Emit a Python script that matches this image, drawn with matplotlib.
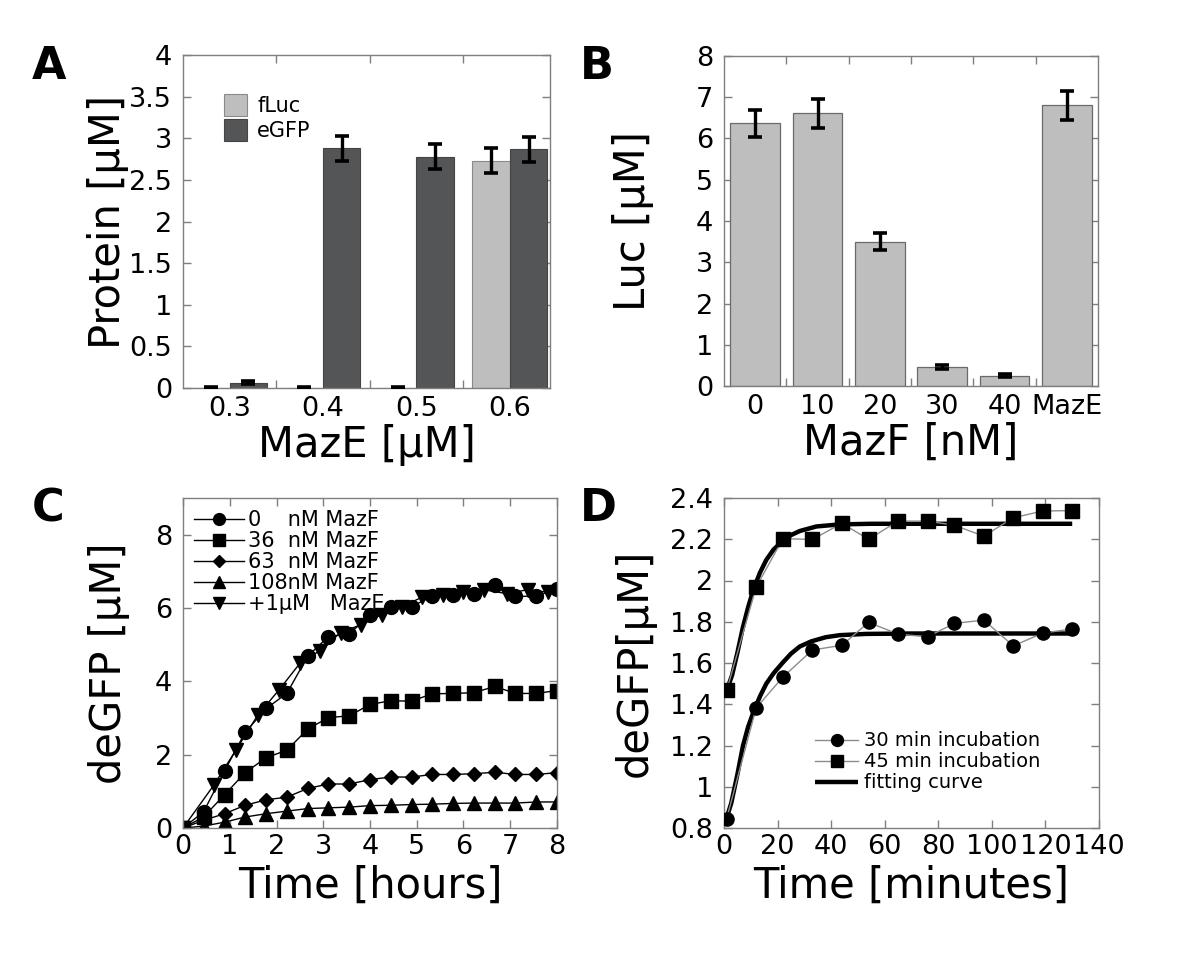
import matplotlib
matplotlib.use("Agg")
import matplotlib.pyplot as plt
import numpy as np

plt.rcParams['font.family'] = ['DejaVu Sans']

# ---------------- data ----------------
# Panel A
a_categories = ['0.3', '0.4', '0.5', '0.6']
a_fluc = [0.0, 0.0, 0.0, 2.73]
a_fluc_err = [0.012, 0.012, 0.012, 0.15]
a_egfp = [0.065, 2.88, 2.78, 2.87]
a_egfp_err = [0.02, 0.15, 0.15, 0.15]

# Panel B
b_categories = ['0', '10', '20', '30', '40', 'MazE']
b_luc = [6.37, 6.61, 3.50, 0.46, 0.25, 6.80]
b_luc_err = [0.33, 0.35, 0.20, 0.04, 0.03, 0.35]

# Panel C
c_time = [0, 0.44, 0.89, 1.33, 1.78, 2.22, 2.67, 3.11, 3.56, 4.0, 4.44,
          4.89, 5.33, 5.78, 6.22, 6.67, 7.11, 7.56, 8.0]
c_0nM = [0, 0.44, 1.56, 2.61, 3.26, 3.67, 4.69, 5.22, 5.30, 5.80, 6.03,
         6.04, 6.32, 6.36, 6.39, 6.64, 6.32, 6.32, 6.53]
c_36nM = [0, 0.30, 0.91, 1.51, 1.92, 2.12, 2.70, 3.01, 3.06, 3.37, 3.47,
          3.46, 3.66, 3.67, 3.69, 3.86, 3.67, 3.67, 3.75]
c_63nM = [0, 0.21, 0.39, 0.62, 0.77, 0.84, 1.08, 1.20, 1.20, 1.32, 1.39,
          1.39, 1.46, 1.46, 1.48, 1.52, 1.46, 1.46, 1.51]
c_108nM = [0, 0.05, 0.16, 0.30, 0.39, 0.46, 0.53, 0.55, 0.57, 0.61, 0.62,
           0.64, 0.65, 0.67, 0.68, 0.68, 0.68, 0.71, 0.71]
c_maze_time = [0, 0.66, 1.13, 1.60, 2.05, 2.50, 2.93, 3.37, 3.80, 4.25,
               4.68, 5.12, 5.57, 6.00, 6.43, 6.93, 7.37, 7.80]
c_maze = [0, 1.17, 2.12, 3.08, 3.76, 4.49, 4.84, 5.33, 5.54, 5.82, 6.03,
          6.30, 6.36, 6.44, 6.50, 6.39, 6.50, 6.43]
c_labels = ['0    nM MazF', '36  nM MazF', '63  nM MazF', '108nM MazF',
            '+1\u00b5M   MazE']

# Panel D
d_time = [1, 12, 22, 33, 44, 54, 65, 76, 86, 97, 108, 119, 130]
d_30min = [0.846, 1.382, 1.532, 1.663, 1.686, 1.797, 1.740, 1.727, 1.792,
           1.808, 1.683, 1.745, 1.765]
d_45min = [1.467, 1.968, 2.203, 2.199, 2.277, 2.200, 2.288, 2.288, 2.268,
           2.215, 2.304, 2.337, 2.339]
d_fit30_time = [1, 2.7, 5, 7.1, 9, 11.2, 13.5, 15.8, 18.5, 21.8, 25, 28.3,
                32.6, 38, 43.2, 53, 70, 130]
d_fit30 = [0.85, 0.92, 1.06, 1.20, 1.29, 1.37, 1.44, 1.50, 1.55, 1.60,
           1.645, 1.68, 1.705, 1.725, 1.735, 1.741, 1.743, 1.743]
d_fit45_time = [1, 3, 5, 7, 9, 11.2, 13.5, 15.8, 18.5, 21.8, 25, 28.3,
                34.5, 43.2, 55, 130]
d_fit45 = [1.467, 1.54, 1.65, 1.77, 1.87, 1.965, 2.04, 2.10, 2.15, 2.19,
           2.22, 2.24, 2.262, 2.272, 2.275, 2.275]

# ---------------- styling ----------------
FRAME = '#7f7f7f'
LIGHT = '#bebebe'
DARK = '#545557'
TICK_FS = 19.5
LABEL_FS = 30
LEG_FS = 14
LETTER_FS = 32

W, H = 1200, 977
fig = plt.figure(figsize=(12, 9.77), dpi=100)


def add_ax(l, r, t, b):
    return fig.add_axes([l / W, 1 - b / H, (r - l) / W, (b - t) / H])


def style(ax):
    for s in ax.spines.values():
        s.set_color(FRAME)
        s.set_linewidth(1.0)
    ax.tick_params(direction='in', length=6, width=1, color=FRAME,
                   labelsize=TICK_FS, top=True, right=True, pad=8)


# ---------------- Panel A ----------------
axA = add_ax(183, 550, 55, 388)
xa = np.arange(len(a_categories))
bw = 0.4
axA.bar(xa - 0.2, a_fluc, bw, color=LIGHT, edgecolor='#8a8a8a', lw=0.8,
        label='fLuc', zorder=2)
axA.bar(xa + 0.2, a_egfp, bw, color=DARK, edgecolor='#444444', lw=0.8,
        label='eGFP', zorder=2)
axA.errorbar(xa - 0.2, a_fluc, yerr=a_fluc_err, fmt='none', ecolor='black',
             elinewidth=2.4, capsize=5, capthick=2.6, zorder=3)
axA.errorbar(xa + 0.2, a_egfp, yerr=a_egfp_err, fmt='none', ecolor='black',
             elinewidth=2.4, capsize=5, capthick=2.6, zorder=3)
axA.set_xlim(-0.5, 3.43)
axA.set_ylim(0, 4)
axA.set_yticks([0, 0.5, 1, 1.5, 2, 2.5, 3, 3.5, 4])
axA.set_yticklabels(['0', '0.5', '1', '1.5', '2', '2.5', '3', '3.5', '4'])
axA.set_xticks([0.5, 1.5, 2.5])
axA.set_xticklabels([])
style(axA)
for i, lab in enumerate(a_categories):
    axA.text(i, -0.1, lab, ha='center', va='top', fontsize=TICK_FS,
             transform=axA.transData)
axA.set_xlabel('MazE [\u00b5M]', fontsize=LABEL_FS, labelpad=18)
axA.set_ylabel('Protein [\u00b5M]', fontsize=LABEL_FS, labelpad=0)
axA.legend(loc='upper left', bbox_to_anchor=(0.06, 0.94),
           frameon=False, fontsize=LEG_FS + 1, handlelength=1.1,
           handleheight=1.25, handletextpad=0.5, labelspacing=0.15)

# ---------------- Panel B ----------------
axB = add_ax(724, 1098, 56, 386)
xb = np.arange(len(b_categories))
axB.bar(xb, b_luc, 0.8, color=LIGHT, edgecolor='#6a6a6a', lw=0.9, zorder=2)
axB.errorbar(xb, b_luc, yerr=b_luc_err, fmt='none', ecolor='black',
             elinewidth=2.4, capsize=5, capthick=2.6, zorder=3)
axB.set_xlim(-0.5, 5.5)
axB.set_ylim(0, 8)
axB.set_yticks(range(0, 9))
axB.set_xticks([0.5, 1.5, 2.5, 3.5, 4.5])
axB.set_xticklabels([])
style(axB)
for i, lab in enumerate(b_categories):
    axB.text(i, -0.2, lab, ha='center', va='top', fontsize=TICK_FS,
             transform=axB.transData)
axB.set_xlabel('MazF [nM]', fontsize=LABEL_FS, labelpad=18)
axB.set_ylabel('Luc [\u00b5M]', fontsize=LABEL_FS, labelpad=30)

# ---------------- Panel C ----------------
axC = add_ax(183, 557, 498, 828)
ms = 10
kw = dict(color='black', lw=1.0, mfc='black', mec='black')
axC.plot(c_time, c_0nM, marker='o', ms=ms, label=c_labels[0], **kw)
axC.plot(c_time, c_36nM, marker='s', ms=ms - 0.5, label=c_labels[1], **kw)
axC.plot(c_time, c_63nM, marker='D', ms=ms - 2.5, label=c_labels[2], **kw)
axC.plot(c_time, c_108nM, marker='^', ms=ms, label=c_labels[3], **kw)
axC.plot(c_maze_time, c_maze, marker='v', ms=ms, label=c_labels[4], **kw)
axC.set_xlim(0, 8)
axC.set_ylim(0, 9)
axC.set_xticks(range(0, 9))
axC.set_yticks([0, 2, 4, 6, 8])
style(axC)
axC.tick_params(axis='x', pad=4)
axC.set_xlabel('Time [hours]', fontsize=LABEL_FS, labelpad=4)
axC.set_ylabel('deGFP [\u00b5M]', fontsize=LABEL_FS, labelpad=18)
axC.legend(loc='upper left', bbox_to_anchor=(-0.02, 1.02), frameon=False,
           fontsize=LEG_FS + 1, handlelength=2.4, handletextpad=0.2,
           labelspacing=0.05, markerscale=0.85)

# ---------------- Panel D ----------------
axD = add_ax(724, 1099, 498, 828)
axD.plot(d_time, d_30min, marker='o', ms=9.5, color='#8c8c8c', lw=1.0,
         mfc='black', mec='black', label='30 min incubation', zorder=3)
axD.plot(d_time, d_45min, marker='s', ms=9.5, color='#8c8c8c', lw=1.0,
         mfc='black', mec='black', label='45 min incubation', zorder=3)
axD.plot(d_fit30_time, d_fit30, color='black', lw=3.2,
         label='fitting curve', zorder=2, solid_capstyle='butt')
axD.plot(d_fit45_time, d_fit45, color='black', lw=3.2, zorder=2,
         solid_capstyle='butt')
axD.set_xlim(0, 140)
axD.set_ylim(0.8, 2.4)
axD.set_xticks(range(0, 141, 20))
axD.set_yticks([0.8, 1, 1.2, 1.4, 1.6, 1.8, 2, 2.2, 2.4])
axD.set_yticklabels(['0.8', '1', '1.2', '1.4', '1.6', '1.8', '2', '2.2',
                     '2.4'])
style(axD)
axD.tick_params(axis='x', pad=4)
axD.set_xlabel('Time [minutes]', fontsize=LABEL_FS, labelpad=4)
axD.set_ylabel('deGFP[\u00b5M]', fontsize=LABEL_FS, labelpad=10)
axD.legend(loc='lower right', bbox_to_anchor=(0.89, 0.055), frameon=False,
           fontsize=LEG_FS, handlelength=2.2, handletextpad=0.3,
           labelspacing=0.1, markerscale=0.9)

# ---------------- panel letters ----------------
for x, y, s in [(32, 45, 'A'), (580, 45, 'B'), (32, 487, 'C'),
                (580, 487, 'D')]:
    fig.text(x / W, 1 - y / H, s, fontsize=LETTER_FS, fontweight='bold',
             ha='left', va='top')

fig.savefig('out.png', dpi=100)
